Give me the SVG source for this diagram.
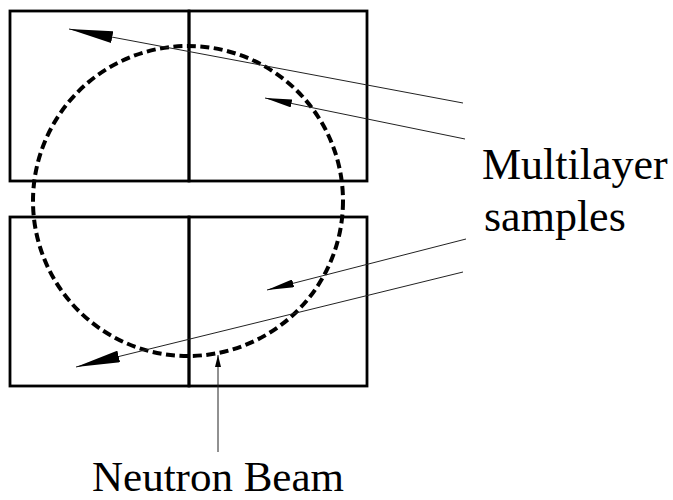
<svg xmlns="http://www.w3.org/2000/svg" width="673" height="500" viewBox="0 0 673 500">
<style>
.box{fill:none;stroke:#000;stroke-width:2.8}
.lead{fill:none;stroke:#222;stroke-width:1}
.beam{fill:none;stroke:#000;stroke-width:4;stroke-dasharray:9 4.5}
.lbl{fill:#000}
</style>
<defs>
<marker id="big" markerUnits="userSpaceOnUse" markerWidth="44" markerHeight="12" refX="44" refY="6" orient="auto"><path d="M0,0 L44,6 L0,12 Z" fill="#000"/></marker>
<marker id="small" markerUnits="userSpaceOnUse" markerWidth="27" markerHeight="8" refX="27" refY="4" orient="auto"><path d="M0,0 L27,4 L0,8 Z" fill="#000"/></marker>
<marker id="tiny" markerUnits="userSpaceOnUse" markerWidth="12" markerHeight="6" refX="12" refY="3" orient="auto"><path d="M0,0 L12,3 L0,6 Z" fill="#000"/></marker>
</defs>
<rect width="673" height="500" fill="#fff"/>
<g id="sample-top-left"><rect class="box" x="10" y="11" width="179" height="170"/></g>
<g id="sample-top-right"><rect class="box" x="189" y="11" width="178" height="170"/></g>
<g id="sample-bottom-left"><rect class="box" x="10" y="217" width="179" height="169"/></g>
<g id="sample-bottom-right"><rect class="box" x="189" y="217" width="178" height="169"/></g>
<g id="beam-circle"><circle class="beam" cx="188" cy="201" r="155"/></g>
<g id="connectors">
<line class="lead" x1="463" y1="103" x2="69" y2="29" marker-end="url(#big)"/>
<line class="lead" x1="465" y1="139" x2="265" y2="98" marker-end="url(#small)"/>
<line class="lead" x1="466" y1="239" x2="267" y2="290" marker-end="url(#small)"/>
<line class="lead" x1="463" y1="272" x2="76" y2="367" marker-end="url(#big)"/>
<line class="lead" x1="218" y1="452" x2="218" y2="355" marker-end="url(#tiny)"/>
</g>
<g id="label-samples" font-family="'Liberation Serif', 'Times New Roman', 'DejaVu Serif', serif" font-size="44">
<text class="lbl" x="482" y="179">Multilayer</text>
<text class="lbl" x="484" y="231">samples</text>
</g>
<g id="label-beam" font-family="'Liberation Serif', 'Times New Roman', 'DejaVu Serif', serif" font-size="43"><text class="lbl" x="92" y="491">Neutron Beam</text></g>
</svg>
